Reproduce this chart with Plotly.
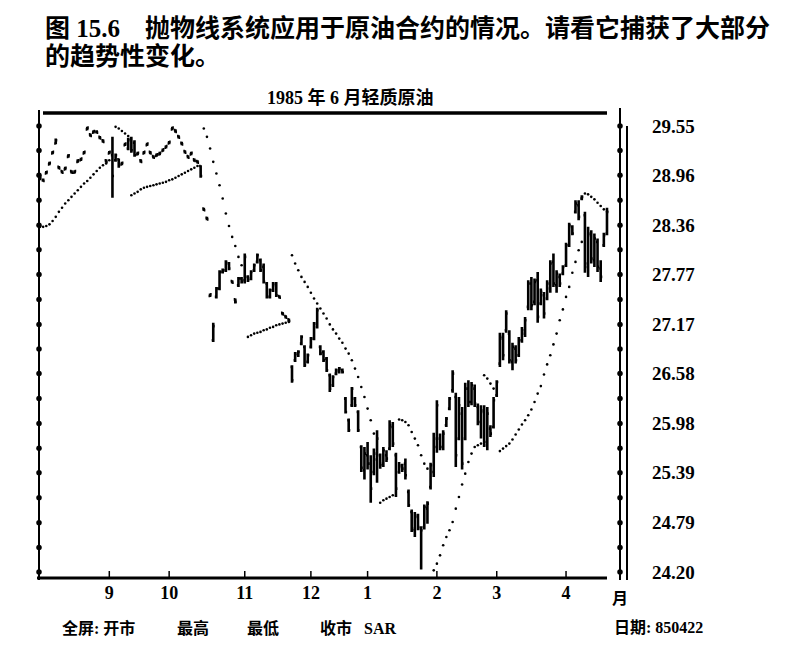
import plotly.graph_objects as go

# 1985年6月轻质原油 日线 (交易日序号 0 = 1984年8月初)
high = [
    28.94, 28.92, 29.01, 29.12, 29.25, 29.40, 29.07, 29.02, 29.06, 29.21,
    29.02, 29.02, 29.15, 29.17, 29.25, 29.54, 29.46, 29.50, 29.50, 29.43,
    29.39, 29.15, 29.25, 29.42, 29.22, 29.16, 29.12, 29.35, 29.41, 29.42,
    29.38, 29.24, 29.15, 29.25, 29.35, 29.25, 29.20, 29.22, 29.24, 29.28,
    29.32, 29.37, 29.54, 29.51, 29.44, 29.36, 29.26, 29.20, 29.24, 29.16,
    29.14, 29.08, 28.57, 28.46, 27.54, 27.19, 27.62, 27.82, 27.84, 27.94,
    27.92, 27.70, 27.48, 27.74, 27.74, 28.02, 27.76, 27.82, 27.90, 28.02,
    27.96, 27.90, 27.68, 27.60, 27.68, 27.68, 27.52, 27.32, 27.28, 27.24,
    26.68, 26.84, 26.86, 27.04, 26.92, 26.82, 27.02, 27.20, 27.37, 26.92,
    26.86, 26.78, 26.58, 26.56, 26.64, 26.66, 26.64, 26.30, 26.04, 26.42,
    26.30, 26.14, 25.72, 25.70, 25.76, 25.60, 25.68, 25.90, 25.62, 25.70,
    25.66, 26.02, 26.00, 25.63, 25.52, 25.50, 25.56, 25.19, 24.95, 24.92,
    24.90, 24.75, 25.01, 25.05, 25.51, 25.87, 26.26, 25.86, 25.90, 26.06,
    26.30, 26.62, 26.35, 26.30, 26.18, 26.47, 26.50, 26.48, 26.45, 26.22,
    26.20, 26.20, 26.18, 25.96, 26.30, 26.50, 27.07, 27.07, 27.34, 27.10,
    26.95, 26.92, 27.02, 27.14, 27.26, 27.70, 27.74, 27.72, 27.80, 27.60,
    27.56, 27.70, 27.94, 28.02, 27.82, 27.78, 27.88, 28.15, 28.39, 28.36,
    28.66, 28.66, 28.72, 28.52, 28.34, 28.30, 28.26, 28.20, 27.94, 28.27,
    28.57,
]
low = [
    28.90, 28.88, 28.97, 29.08, 29.21, 29.33, 29.03, 28.98, 29.02, 29.17,
    28.98, 28.98, 29.11, 29.13, 29.21, 29.50, 29.42, 29.46, 29.46, 29.39,
    29.35, 29.11, 29.21, 28.69, 29.12, 29.05, 29.08, 29.31, 29.26, 29.23,
    29.18, 29.20, 29.11, 29.21, 29.31, 29.21, 29.16, 29.18, 29.20, 29.24,
    29.28, 29.33, 29.50, 29.47, 29.40, 29.32, 29.22, 29.16, 29.20, 29.12,
    29.10, 28.93, 28.53, 28.42, 27.50, 26.96, 27.48, 27.58, 27.78, 27.80,
    27.82, 27.66, 27.42, 27.62, 27.66, 27.66, 27.68, 27.70, 27.80, 27.90,
    27.80, 27.66, 27.48, 27.48, 27.56, 27.50, 27.48, 27.28, 27.24, 27.20,
    26.47, 26.72, 26.78, 26.92, 26.66, 26.70, 26.88, 26.98, 27.12, 26.80,
    26.72, 26.60, 26.36, 26.42, 26.56, 26.58, 26.58, 26.10, 25.88, 26.18,
    26.18, 25.88, 25.40, 25.31, 25.43, 25.03, 25.36, 25.27, 25.44, 25.46,
    25.52, 25.66, 25.70, 25.10, 25.38, 25.40, 25.31, 24.98, 24.68, 24.62,
    24.70, 24.23, 24.71, 24.78, 25.19, 25.34, 25.63, 25.66, 25.66, 25.94,
    26.14, 26.35, 25.46, 25.78, 25.43, 25.78, 26.18, 26.20, 26.18, 25.96,
    25.80, 25.70, 25.66, 25.82, 25.92, 26.30, 26.66, 26.74, 27.07, 26.70,
    26.62, 26.70, 26.78, 26.95, 27.02, 27.34, 27.34, 27.40, 27.19, 27.40,
    27.24, 27.46, 27.55, 27.62, 27.55, 27.62, 27.76, 27.86, 28.10, 28.24,
    28.50, 28.42, 28.66, 27.79, 27.74, 27.90, 27.86, 27.80, 27.68, 28.10,
    28.24,
]
open_ = [
    28.91, 28.90, 28.98, 29.09, 29.22, 29.34, 29.06, 29.01, 29.03, 29.18,
    29.01, 28.99, 29.12, 29.14, 29.22, 29.51, 29.45, 29.47, 29.48, 29.42,
    29.38, 29.14, 29.22, 29.20, 29.14, 29.15, 29.09, 29.32, 29.28, 29.40,
    29.35, 29.21, 29.14, 29.22, 29.32, 29.24, 29.19, 29.19, 29.21, 29.25,
    29.29, 29.34, 29.51, 29.50, 29.43, 29.35, 29.25, 29.19, 29.21, 29.15,
    29.13, 29.07, 28.56, 28.45, 27.51, 26.98, 27.50, 27.60, 27.80, 27.82,
    27.90, 27.69, 27.47, 27.64, 27.72, 27.70, 27.74, 27.72, 27.82, 27.92,
    27.94, 27.86, 27.66, 27.50, 27.58, 27.64, 27.51, 27.31, 27.27, 27.23,
    26.66, 26.74, 26.80, 26.94, 26.90, 26.72, 26.90, 27.00, 27.14, 26.90,
    26.84, 26.76, 26.56, 26.44, 26.58, 26.60, 26.62, 26.28, 26.02, 26.20,
    26.28, 26.12, 25.70, 25.42, 25.60, 25.50, 25.40, 25.55, 25.60, 25.50,
    25.60, 25.68, 25.94, 25.60, 25.40, 25.46, 25.50, 25.16, 24.92, 24.70,
    24.86, 24.72, 24.74, 24.96, 25.22, 25.40, 25.70, 25.80, 25.70, 25.96,
    26.16, 26.38, 26.30, 25.80, 26.10, 25.80, 26.40, 26.24, 26.40, 26.18,
    26.00, 26.12, 25.72, 25.92, 25.94, 26.32, 26.70, 27.02, 27.10, 27.06,
    26.72, 26.88, 26.80, 26.98, 27.06, 27.38, 27.66, 27.44, 27.70, 27.42,
    27.52, 27.48, 27.60, 27.92, 27.64, 27.74, 27.78, 27.88, 28.12, 28.34,
    28.52, 28.60, 28.68, 28.48, 27.86, 28.24, 27.94, 28.16, 27.84, 28.12,
    28.26,
]
close = [
    28.93, 28.89, 29.00, 29.11, 29.24, 29.38, 29.04, 28.99, 29.05, 29.20,
    28.99, 29.01, 29.14, 29.16, 29.24, 29.53, 29.43, 29.49, 29.47, 29.40,
    29.36, 29.12, 29.24, 28.95, 29.20, 29.08, 29.11, 29.34, 29.38, 29.26,
    29.20, 29.23, 29.12, 29.24, 29.34, 29.22, 29.17, 29.21, 29.23, 29.27,
    29.31, 29.36, 29.53, 29.48, 29.41, 29.33, 29.23, 29.17, 29.23, 29.13,
    29.11, 28.95, 28.54, 28.43, 27.53, 27.15, 27.60, 27.80, 27.82, 27.92,
    27.84, 27.67, 27.44, 27.72, 27.68, 27.98, 27.70, 27.80, 27.88, 28.00,
    27.82, 27.68, 27.50, 27.58, 27.66, 27.52, 27.49, 27.29, 27.25, 27.21,
    26.50, 26.82, 26.84, 27.02, 26.68, 26.80, 27.00, 27.18, 27.34, 26.82,
    26.74, 26.62, 26.40, 26.54, 26.62, 26.64, 26.60, 26.12, 25.90, 26.40,
    26.20, 25.90, 25.45, 25.62, 25.50, 25.20, 25.62, 25.80, 25.48, 25.66,
    25.56, 25.96, 25.74, 25.20, 25.48, 25.44, 25.36, 25.00, 24.72, 24.88,
    24.74, 24.70, 24.98, 25.02, 25.48, 25.80, 26.20, 25.70, 25.86, 26.04,
    26.28, 26.58, 25.60, 26.20, 25.50, 26.40, 26.24, 26.44, 26.22, 26.00,
    26.14, 25.76, 26.10, 25.86, 26.26, 26.48, 27.00, 26.80, 27.30, 26.74,
    26.90, 26.74, 26.98, 27.10, 27.22, 27.66, 27.40, 27.68, 27.26, 27.56,
    27.30, 27.66, 27.90, 27.66, 27.78, 27.66, 27.86, 28.12, 28.36, 28.26,
    28.62, 28.46, 28.70, 27.90, 28.26, 27.96, 28.20, 27.86, 27.74, 28.24,
    28.52,
]
# 抛物线 SAR（None = 翻转当天不画点）
sar = [
    28.34, 28.34, 28.35, 28.37, 28.41, 28.46, 28.52, 28.57, 28.62, 28.66,
    28.70, 28.74, 28.78, 28.82, 28.86, 28.89, 28.93, 28.97, 29.01, 29.05,
    29.08, 29.10, 29.14, None, 29.54, 29.52, 29.49, 29.46, 29.43, 28.72,
    28.74, 28.76, 28.79, 28.81, 28.82, 28.83, 28.84, 28.85, 28.86, 28.87,
    28.88, 28.90, 28.91, 28.93, 28.95, 28.97, 28.99, 29.01, 29.03, 29.05,
    29.07, None, 29.52, 29.42, 29.28, 29.12, 28.98, 28.84, 28.68, 28.50,
    28.35, 28.22, 28.11, 27.98, 27.88, None, 27.02, 27.04, 27.06, 27.07,
    27.08, 27.10, 27.11, 27.13, 27.14, 27.16, 27.17, 27.18, 27.19, 27.20,
    28.00, 27.90, 27.82, 27.74, 27.68, 27.62, 27.55, 27.48, 27.42, 27.36,
    27.30, 27.24, 27.17, 27.11, 27.06, 27.00, 26.95, 26.88, 26.82, 26.74,
    26.64, 26.54, 26.42, 26.30, 26.16, 26.02, 25.86, None, 25.03, 25.06,
    25.08, 25.10, 25.12, None, 26.03, 26.02, 26.00, 25.96, 25.88, 25.80,
    25.72, 25.60, 25.50, 25.44, None, 24.22, 24.30, 24.40, 24.52, 24.62,
    24.70, 24.80, 24.96, 25.10, 25.25, 25.38, 25.52, 25.62, 25.70, 25.72,
    25.74, 26.56, 26.52, 26.46, 26.40, None, 25.65, 25.68, 25.71, 25.74,
    25.79, 25.85, 25.91, 25.97, 26.02, 26.08, 26.15, 26.24, 26.34, 26.43,
    26.57, 26.69, 26.80, 26.93, 27.06, 27.22, 27.35, 27.50, 27.62, 27.79,
    27.92, 28.06, 28.16, 28.74, 28.73, 28.70, 28.67, 28.63, 28.59, 28.55,
    28.52,
]
day = list(range(len(close)))

month_pos = [22, 41, 65, 86, 104, 126, 145, 167]
month_labels = ["9", "10", "11", "12", "1", "2", "3", "4"]
ytick_vals = [29.55, 28.96, 28.36, 27.77, 27.17, 26.58, 25.98, 25.39, 24.79, 24.20]
ytick_labels = ["29.55", "28.96", "28.36", "27.77", "27.17", "26.58", "25.98", "25.39", "24.79", "24.20"]

# 绘图区在页面上的像素位置
L, R, T, B = 39, 620, 113, 578
X_RANGE = [-0.317, 184.13]
Y_RANGE = [24.128, 29.706]
FONT = "Liberation Serif, Noto Sans CJK SC, serif"


def px(x):
    return (x - L) / (R - L)


def py(y):
    return (B - y) / (B - T)


fig = go.Figure()

fig.add_trace(go.Ohlc(
    x=day, open=open_, high=high, low=low, close=close,
    increasing_line_color="black", decreasing_line_color="black",
    line=dict(width=2.6), tickwidth=0.5,
    showlegend=False, hoverinfo="skip",
))

fig.add_trace(go.Scatter(
    x=day, y=sar, mode="markers",
    marker=dict(color="black", size=2.6),
    showlegend=False, hoverinfo="skip",
))

# 左右轴上的圆点刻度
dot_vals = ytick_vals + [(a + b) / 2 for a, b in zip(ytick_vals, ytick_vals[1:])]
for xe in X_RANGE:
    fig.add_trace(go.Scatter(
        x=[xe] * len(dot_vals), y=dot_vals, mode="markers",
        marker=dict(color="black", size=5.5),
        cliponaxis=False, showlegend=False, hoverinfo="skip",
    ))

shapes = [
    # 顶部粗线
    dict(type="line", xref="paper", yref="paper", x0=px(43), x1=px(607), y0=py(113), y1=py(113),
         line=dict(color="black", width=3.5)),
    # 底部粗线
    dict(type="line", xref="paper", yref="paper", x0=px(37), x1=px(607), y0=py(578), y1=py(578),
         line=dict(color="black", width=3)),
    # 左轴
    dict(type="line", xref="paper", yref="paper", x0=px(39), x1=px(39), y0=py(110), y1=py(580),
         line=dict(color="black", width=2)),
    # 右轴双线
    dict(type="line", xref="paper", yref="paper", x0=px(620), x1=px(620), y0=py(108), y1=py(580),
         line=dict(color="black", width=2)),
    dict(type="line", xref="paper", yref="paper", x0=px(627), x1=px(627), y0=py(126), y1=py(580),
         line=dict(color="black", width=2)),
]
for m in month_pos:
    shapes.append(dict(type="line", xref="x", yref="paper", x0=m, x1=m, y0=py(578), y1=py(571),
                       line=dict(color="black", width=1.5)))


def note(text, x, y, size, anchor="left"):
    return dict(text=text, xref="paper", yref="paper", x=px(x), y=py(y),
                xanchor=anchor, yanchor="middle", showarrow=False,
                font=dict(family=FONT, size=size, color="black", weight="bold"))


annotations = [
    note("图 15.6    抛物线系统应用于原油合约的情况。请看它捕获了大部分", 43, 28, 25),
    note("的趋势性变化。", 43, 56, 25),
    note("1985 年 6 月轻质原油", 350, 97, 18, "center"),
    note("月", 620, 598, 16, "center"),
    note("全屏: 开市", 60, 628, 16),
    note("最高", 175, 628, 16),
    note("最低", 245, 628, 16),
    note("收市", 318, 628, 16),
    note("SAR", 362, 628, 16),
    note("日期: 850422", 612, 627, 16),
]

fig.update_layout(
    width=803, height=656,
    margin=dict(l=L, r=803 - R, t=T, b=656 - B),
    plot_bgcolor="white", paper_bgcolor="white",
    font=dict(family=FONT, color="black"),
    shapes=shapes, annotations=annotations,
    xaxis=dict(
        range=X_RANGE, rangeslider=dict(visible=False),
        tickvals=month_pos, ticktext=month_labels,
        tickfont=dict(family=FONT, size=18, weight="bold"),
        showgrid=False, zeroline=False, showline=False, ticks="",
        ticklabelstandoff=2,
    ),
    yaxis=dict(
        range=Y_RANGE, side="right",
        tickvals=ytick_vals, ticktext=ytick_labels,
        tickfont=dict(family=FONT, size=19, weight="bold"),
        showgrid=False, zeroline=False, showline=False, ticks="",
        ticklabelstandoff=31,
    ),
)

# 去掉页面默认边距，让图从左上角开始；不显示工具栏
fig.write_html("out.html", config={"displayModeBar": False},
               post_script="document.body.style.margin='0';")
